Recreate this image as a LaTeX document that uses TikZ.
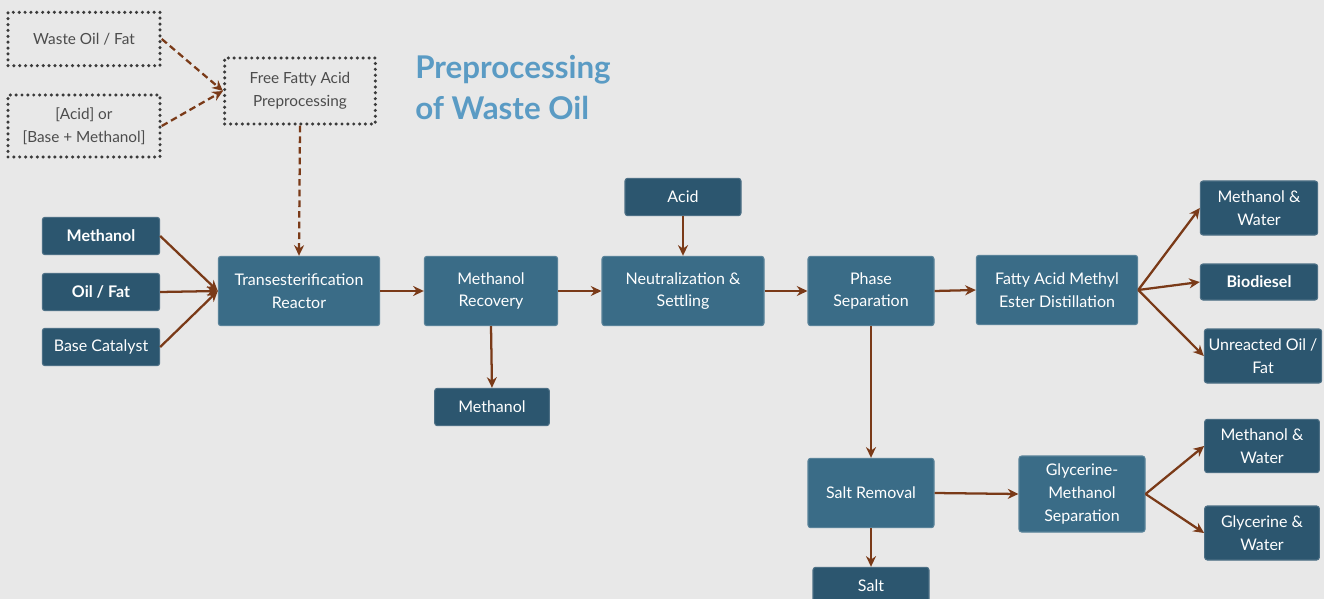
\documentclass[tikz,border=0pt]{standalone}
\usepackage{fontspec}
\setmainfont{Lato}
\usetikzlibrary{arrows.meta}
\definecolor{bg}{HTML}{E8E8E8}
\definecolor{procc}{HTML}{3A6C87}
\definecolor{endc}{HTML}{2C566F}
\definecolor{arr}{HTML}{7A3A18}
\definecolor{ttl}{HTML}{5A9BC4}
\definecolor{dotc}{HTML}{3A3A3A}
\tikzset{
  base/.style={rounded corners=2pt, align=center, text=white, inner sep=2pt,
    font=\fontsize{12}{17}\selectfont},
  proc/.style={base, fill=procc, draw=procc!85!white, line width=0.8pt},
  endb/.style={base, fill=endc, draw=endc!85!white, line width=0.8pt},
  bfb/.style={font=\fontsize{12}{17}\selectfont\bfseries},
  dotbox/.style={draw=dotc, line width=2.6pt, dash pattern=on 0pt off 4.4pt, line cap=round,
    align=center, text=black!70, font=\fontsize{11.5}{17}\selectfont, inner sep=2pt},
  flow/.style={draw=arr, line width=1.7pt, -{Stealth[length=8pt,width=7.5pt]}},
  dflow/.style={flow, dash pattern=on 5pt off 3pt},
  ttlstyle/.style={anchor=base west, text=ttl, font=\fontsize{23.5}{28}\selectfont\bfseries, inner sep=0pt},
}
\begin{document}
\begin{tikzpicture}[x=0.75pt,y=-0.75pt]
\fill[bg] (0,0) rectangle (1324,599);
\useasboundingbox (0,0) rectangle (1324,599);

% preprocessing
\node[dotbox, minimum width=114pt, minimum height=40pt] (waste) at (84,39) {Waste Oil / Fat};
\node[dotbox, minimum width=114pt, minimum height=46.5pt] (acidbase) at (84,126) {[Acid] or\\\relax [Base + Methanol]};
\node[dotbox, minimum width=113pt, minimum height=49.5pt] (ffa) at (300,91) {Free Fatty Acid\\Preprocessing};
\node[ttlstyle] (t1) at (415,79) {Preprocessing};
\node[ttlstyle] (t2) at (415,120) {of Waste Oil};

% inputs
\node[endb, bfb, minimum width=88pt, minimum height=28pt] (meth) at (101,236) {Methanol};
\node[endb, bfb, minimum width=88pt, minimum height=28pt] (oil) at (101,292) {Oil / Fat};
\node[endb, minimum width=88pt, minimum height=28pt] (cat) at (101,347) {Base Catalyst};

% main line
\node[proc, minimum width=121pt, minimum height=52pt] (trans) at (299,291) {Transesterification\\Reactor};
\node[proc, minimum width=100pt, minimum height=52pt] (mr) at (491,291) {Methanol\\Recovery};
\node[endb, minimum width=86pt, minimum height=28pt] (methout) at (492,407) {Methanol};
\node[endb, minimum width=87pt, minimum height=28pt] (acid) at (683,197) {Acid};
\node[proc, minimum width=121.5pt, minimum height=52pt] (neut) at (683,291) {Neutralization \&\\Settling};
\node[proc, minimum width=94.5pt, minimum height=52pt] (phase) at (871,291) {Phase\\Separation};
\node[proc, minimum width=121pt, minimum height=52pt] (fame) at (1057,290) {Fatty Acid Methyl\\Ester Distillation};

% outputs
\node[endb, minimum width=88pt, minimum height=40.5pt] (mw1) at (1259,208) {Methanol \&\\Water};
\node[endb, bfb, minimum width=88pt, minimum height=27pt] (bio) at (1259,282) {Biodiesel};
\node[endb, minimum width=88pt, minimum height=40.5pt] (unr) at (1263,356) {Unreacted Oil /\\Fat};

% glycerine branch
\node[proc, minimum width=94.5pt, minimum height=52pt] (salt) at (871,493) {Salt Removal};
\node[proc, minimum width=94.5pt, minimum height=57pt] (glyc) at (1082,494) {Glycerine-\\Methanol\\Separation};
\node[endb, minimum width=86pt, minimum height=40pt] (mw2) at (1262,446) {Methanol \&\\Water};
\node[endb, minimum width=86pt, minimum height=40.5pt] (gw) at (1262,533) {Glycerine \&\\Water};
\node[endb, minimum width=87pt, minimum height=28pt] (saltout) at (871,586) {Salt};

% connectors
\draw[dflow] (waste.east) -- (ffa.west);
\draw[dflow] (acidbase.east) -- (ffa.west);
\draw[dflow] (ffa.south) -- (trans.north);
\draw[flow] (meth.east) -- (trans.west);
\draw[flow] (oil.east) -- (trans.west);
\draw[flow] (cat.east) -- (trans.west);
\draw[flow] (trans.east) -- (mr.west);
\draw[flow] (mr.south) -- (methout.north);
\draw[flow] (mr.east) -- (neut.west);
\draw[flow] (acid.south) -- (neut.north);
\draw[flow] (neut.east) -- (phase.west);
\draw[flow] (phase.east) -- (fame.west);
\draw[flow] (fame.east) -- (mw1.west);
\draw[flow] (fame.east) -- (bio.west);
\draw[flow] (fame.east) -- (unr.west);
\draw[flow] (phase.south) -- (salt.north);
\draw[flow] (salt.east) -- (glyc.west);
\draw[flow] (salt.south) -- (saltout.north);
\draw[flow] (glyc.east) -- (mw2.west);
\draw[flow] (glyc.east) -- (gw.west);
\end{tikzpicture}
\end{document}
